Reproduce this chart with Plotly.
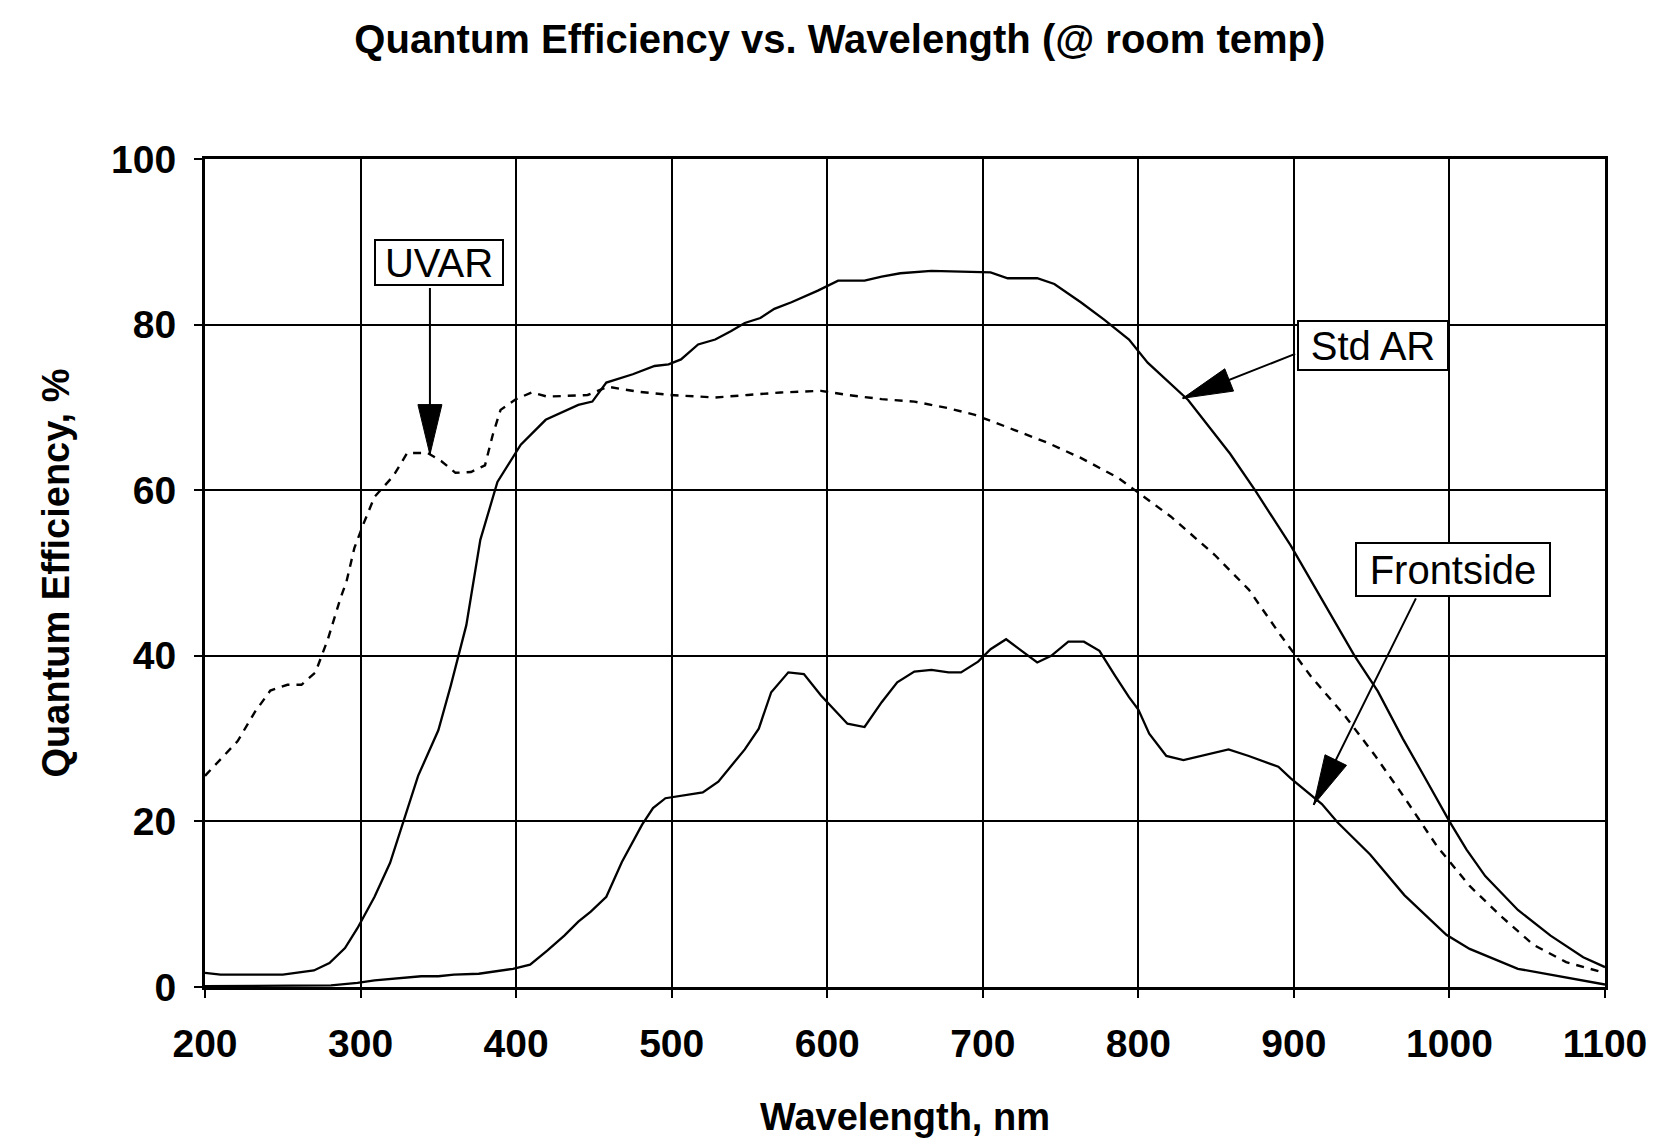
import math
import plotly.graph_objects as go

# ---------------- data ----------------
std_ar_nm = [200, 210, 250, 270, 280, 290, 298, 309, 319, 326, 337, 350, 358, 368, 377, 388,
             403, 419, 440, 449, 458, 475, 489, 498, 506, 517, 528, 538, 547, 557, 566, 577,
             594, 607, 624, 635, 647, 667, 686, 697, 705, 716, 735, 746, 763, 778, 794, 806,
             832, 859, 875, 898, 918, 939, 954, 970, 983, 1000, 1011, 1023, 1044, 1065, 1086,
             1098, 1100]
std_ar_qe = [1.7, 1.5, 1.5, 2.0, 2.9, 4.7, 7.1, 10.9, 15.0, 19.0, 25.5, 31.0, 36.4, 43.7, 54.0, 61.0,
             65.5, 68.5, 70.3, 70.7, 73.0, 74.0, 75.0, 75.2, 75.8, 77.6, 78.2, 79.2, 80.2, 80.8, 81.9, 82.7,
             84.1, 85.3, 85.3, 85.8, 86.2, 86.5, 86.4, 86.3, 86.3, 85.6, 85.6, 84.9, 82.7, 80.6, 78.2, 75.4,
             70.9, 64.4, 60.0, 53.3, 46.8, 40.0, 35.7, 30.0, 25.7, 20.0, 16.6, 13.4, 9.3, 6.2, 3.6,
             2.6, 2.4]

uvar_nm = [200, 202, 210, 221, 232, 242, 253, 262, 271, 279, 287, 291, 296, 302, 309, 321, 330,
           343, 352, 361, 371, 380, 385, 390, 400, 410, 420, 446, 459, 478, 499, 510, 528, 549,
           570, 596, 613, 635, 656, 678, 695, 720, 742, 763, 787, 800, 821, 849, 871, 891, 911,
           933, 952, 971, 992, 1013, 1034, 1054, 1075, 1096, 1100]
uvar_qe = [25.5, 25.9, 27.5, 29.7, 33.2, 35.8, 36.5, 36.5, 38.0, 42.0, 46.9, 49.0, 53.0, 56.0, 59.2,
           61.7, 64.5, 64.5, 63.5, 62.1, 62.2, 63.0, 66.7, 69.7, 71.0, 71.8, 71.3, 71.5, 72.5, 71.9,
           71.5, 71.4, 71.2, 71.5, 71.8, 72.0, 71.5, 71.0, 70.7, 69.9, 69.1, 67.3, 65.7, 63.9, 61.5,
           59.7, 56.8, 52.2, 48.0, 42.6, 37.5, 32.7, 28.0, 22.9, 17.0, 12.2, 8.4, 5.1, 3.0, 1.9, 1.7]

front_nm = [200, 281, 298, 309, 339, 350, 360, 376, 398, 409, 420, 431, 440, 448, 458, 468, 481,
            488, 496, 510, 520, 530, 547, 556, 564, 575, 585, 596, 613, 624, 635, 645, 656, 667,
            678, 686, 697, 705, 715, 725, 735, 744, 755, 765, 775, 785, 794, 800, 807, 818, 829,
            858, 871, 890, 898, 918, 928, 949, 971, 998, 1013, 1044, 1075, 1098, 1100]
front_qe = [0.1, 0.2, 0.5, 0.8, 1.3, 1.3, 1.5, 1.6, 2.2, 2.7, 4.4, 6.2, 7.9, 9.1, 10.9, 15.1, 19.6,
            21.6, 22.8, 23.2, 23.5, 24.8, 28.7, 31.2, 35.6, 38.0, 37.8, 35.2, 31.8, 31.4, 34.4, 36.8,
            38.1, 38.3, 38.0, 38.0, 39.3, 40.8, 42.0, 40.6, 39.2, 40.0, 41.7, 41.7, 40.6, 37.6, 35.0,
            33.5, 30.6, 27.9, 27.4, 28.7, 27.9, 26.6, 25.2, 22.1, 19.9, 16.0, 11.1, 6.3, 4.6, 2.2,
            1.1, 0.3, 0.3]

x_ticks = [200, 300, 400, 500, 600, 700, 800, 900, 1000, 1100]
y_ticks = [0, 20, 40, 60, 80, 100]

FONT = "Liberation Sans, Arial, sans-serif"

fig = go.Figure()
fig.add_trace(go.Scatter(x=uvar_nm, y=uvar_qe, mode="lines", name="UVAR",
                         line=dict(color="black", width=2.4, dash="8px,7px")))
fig.add_trace(go.Scatter(x=std_ar_nm, y=std_ar_qe, mode="lines", name="Std AR",
                         line=dict(color="black", width=2.3)))
fig.add_trace(go.Scatter(x=front_nm, y=front_qe, mode="lines", name="Frontside",
                         line=dict(color="black", width=2.3)))

# ---------------- callouts ----------------
callouts = [
    # label, box center (x, y data), arrow tip (x, y data), arrow start offset px (ax, ay), box w, h
    ("UVAR", (350.4, 87.5), (344.6, 64.3), (0, -168), 130, 47),
    ("Std AR", (950.6, 77.5), (828.5, 71.1), (114, -45), 152, 51),
    ("Frontside", (1002.0, 50.4), (912.7, 22.0), (103, -208), 196, 55),
]

annotations = []
shapes = []
for label, (bx, by), (tx, ty), (ax, ay), bw, bh in callouts:
    annotations.append(dict(x=bx, y=by, xref="x", yref="y", text=label, showarrow=False,
                            font=dict(family=FONT, size=40, color="black"),
                            bgcolor="white", bordercolor="black", borderwidth=2,
                            width=bw - 4, height=bh - 4, borderpad=0,
                            xanchor="center", yanchor="middle"))
    annotations.append(dict(x=tx, y=ty, xref="x", yref="y", text="", showarrow=True,
                            ax=ax, ay=ay, axref="pixel", ayref="pixel",
                            arrowhead=0, arrowwidth=2, arrowcolor="black", standoff=0))
    # arrow head (filled triangle) in pixel units anchored at the tip
    n = math.hypot(ax, ay)
    ux, uy = ax / n, ay / n
    L, W = 50, 12
    pts = [(0, 0), (ux * L - uy * W, uy * L + ux * W), (ux * L + uy * W, uy * L - ux * W)]
    path = "M " + " L ".join(f"{px:.1f},{-py:.1f}" for px, py in pts) + " Z"
    shapes.append(dict(type="path", xref="x", yref="y", xsizemode="pixel", ysizemode="pixel",
                       xanchor=tx, yanchor=ty, path=path, fillcolor="black",
                       line=dict(color="black", width=1)))

fig.update_layout(
    width=1667, height=1139,
    margin=dict(l=197, r=70, t=151, b=160, autoexpand=False),
    paper_bgcolor="white", plot_bgcolor="white",
    showlegend=False,
    title=dict(text="Quantum Efficiency vs. Wavelength (@ room temp)",
               x=0.499, xanchor="center", y=1 - 31 / 1139, yanchor="middle", yref="container",
               font=dict(family=FONT, size=40, color="black", weight="bold")),
    font=dict(family=FONT, color="black"),
    annotations=annotations,
    shapes=shapes,
)

fig.update_xaxes(
    range=[200, 1100], tickvals=x_ticks, ticktext=[str(v) for v in x_ticks],
    showgrid=True, gridcolor="black", gridwidth=2,
    showline=True, linecolor="black", linewidth=3, mirror=True,
    ticks="outside", ticklen=8, tickwidth=2, tickcolor="black",
    tickfont=dict(family=FONT, size=39, color="black", weight="bold"),
    ticklabelstandoff=12, zeroline=False,
    title=dict(text="Wavelength, nm", standoff=40,
               font=dict(family=FONT, size=38, color="black", weight="bold")),
    automargin=False,
)
fig.update_yaxes(
    range=[0, 100], tickvals=y_ticks, ticktext=[str(v) for v in y_ticks],
    showgrid=True, gridcolor="black", gridwidth=2,
    showline=True, linecolor="black", linewidth=3, mirror=True,
    ticks="outside", ticklen=8, tickwidth=2, tickcolor="black",
    tickfont=dict(family=FONT, size=39, color="black", weight="bold"),
    ticklabelstandoff=10, zeroline=False,
    title=dict(text="Quantum Efficiency, %", standoff=30,
               font=dict(family=FONT, size=38, color="black", weight="bold")),
    automargin=False,
)

fig.write_html("out.html")
